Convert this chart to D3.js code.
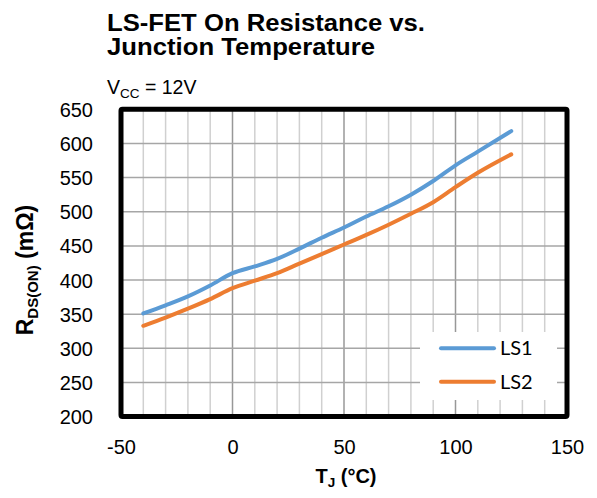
<!DOCTYPE html>
<html><head><meta charset="utf-8">
<script src="https://cdn.jsdelivr.net/npm/d3@7"></script>
<style>body{margin:0;background:#fff}svg{display:block}</style>
</head><body>
<svg id="c" width="597" height="498"></svg>
<script>
const temps = [-40,-30,-20,-10,0,10,20,30,40,50,60,70,80,90,100,110,125];
const ls1 = [351,363,376,392,410,420,431,446,462,477,493,508,525,545,568,588,618];
const ls2 = [333,345,358,372,388,399,410,424,438,452,466,481,497,514,536,557,584];
const seriesNames = ["LS1","LS2"];
const seriesColors = ["#5B9BD5","#ED7D31"];
const xTicks = [-50,0,50,100,150];
const yTicks = [200,250,300,350,400,450,500,550,600,650];

const svg = d3.select("#c");
const L=121, R=567, T=109.3, B=416.6;
const x = d3.scaleLinear().domain([-50,150]).range([L,R]);
const y = d3.scaleLinear().domain([200,650]).range([B,T]);
const font = "'Liberation Sans', Arial, sans-serif";

// minor vertical grid
svg.append("g").selectAll("line").data(d3.range(-40,150,10).filter(v=>v%50!==0))
  .join("line").attr("x1",d=>x(d)).attr("x2",d=>x(d)).attr("y1",T).attr("y2",B)
  .attr("stroke","#d0d0d0").attr("stroke-width",1.5);
// major vertical grid
svg.append("g").selectAll("line").data([0,50,100])
  .join("line").attr("x1",d=>x(d)).attr("x2",d=>x(d)).attr("y1",T).attr("y2",B)
  .attr("stroke","#989898").attr("stroke-width",1.5);
// horizontal grid
svg.append("g").selectAll("line").data(yTicks.slice(1,-1))
  .join("line").attr("y1",d=>y(d)).attr("y2",d=>y(d)).attr("x1",L).attr("x2",R)
  .attr("stroke","#a6a6a6").attr("stroke-width",1.5);

// lines
const line = d3.line().x((d,i)=>x(temps[i])).y(d=>y(d)).curve(d3.curveMonotoneX);
[ls1,ls2].forEach((s,k)=>{
  svg.append("path").datum(s).attr("d",line).attr("fill","none")
    .attr("stroke",seriesColors[k]).attr("stroke-width",4).attr("stroke-linecap","round");
});

// legend
svg.append("rect").attr("x",420).attr("y",332).attr("width",137).attr("height",68).attr("fill","#fff");
seriesNames.forEach((n,k)=>{
  const yy = 348.3 + k*33.4;
  svg.append("line").attr("x1",441).attr("x2",494).attr("y1",yy).attr("y2",yy)
    .attr("stroke",seriesColors[k]).attr("stroke-width",4).attr("stroke-linecap","round");
  svg.append("text").attr("x",500).attr("y",yy+7).text(n)
    .attr("font-family","Lato, 'Liberation Sans', sans-serif").attr("font-size",20).attr("fill","#000");
});

// border
svg.append("rect").attr("x",L).attr("y",T).attr("width",R-L).attr("height",B-T)
  .attr("fill","none").attr("stroke","#000").attr("stroke-width",5).attr("rx",1.5);

// axes labels
const xa = d3.axisBottom(x).tickValues(xTicks).tickSize(0).tickPadding(0).tickFormat(d=>String(d));
const gx = svg.append("g").attr("transform",`translate(0,${B})`).call(xa);
gx.select(".domain").remove();
gx.selectAll("text").attr("font-family",font).attr("font-size",20).attr("fill","#000")
  .attr("dy",null).attr("y",37);
const ya = d3.axisLeft(y).tickValues(yTicks).tickSize(0).tickPadding(0).tickFormat(d=>String(d));
const gy = svg.append("g").attr("transform",`translate(93,0)`).call(ya);
gy.select(".domain").remove();
gy.selectAll("text").attr("font-family",font).attr("font-size",20).attr("fill","#000")
  .attr("dy","0.35em").attr("x",0);

// titles
svg.append("text").attr("x",107).attr("y",31).text("LS-FET On Resistance vs.")
  .attr("font-family",font).attr("font-weight","bold").attr("font-size",23)
  .attr("textLength",318).attr("lengthAdjust","spacingAndGlyphs");
svg.append("text").attr("x",107).attr("y",55).text("Junction Temperature")
  .attr("font-family",font).attr("font-weight","bold").attr("font-size",23)
  .attr("textLength",268).attr("lengthAdjust","spacingAndGlyphs");
const st = svg.append("text").attr("x",107).attr("y",94).attr("font-family",font).attr("font-size",19.5);
st.append("tspan").text("V");
st.append("tspan").text("CC").attr("font-size",13.5).attr("dy",4);
st.append("tspan").text(" = 12V").attr("dy",-4);

// x title
const xt = svg.append("text").attr("x",346).attr("y",483).attr("text-anchor","middle")
  .attr("font-family",font).attr("font-weight","bold").attr("font-size",20);
xt.append("tspan").text("T");
xt.append("tspan").text("J").attr("font-size",13.5).attr("dy",4);
xt.append("tspan").text(" (°C)").attr("dy",-4);

// y title
const yt = svg.append("text").attr("transform","translate(33,270) rotate(-90)").attr("text-anchor","middle")
  .attr("font-family",font).attr("font-weight","bold").attr("font-size",23);
yt.append("tspan").text("R");
yt.append("tspan").text("DS(ON)").attr("font-size",15).attr("dy",4.5);
yt.append("tspan").text(" (mΩ)").attr("dy",-4.5);
</script>
</body></html>
